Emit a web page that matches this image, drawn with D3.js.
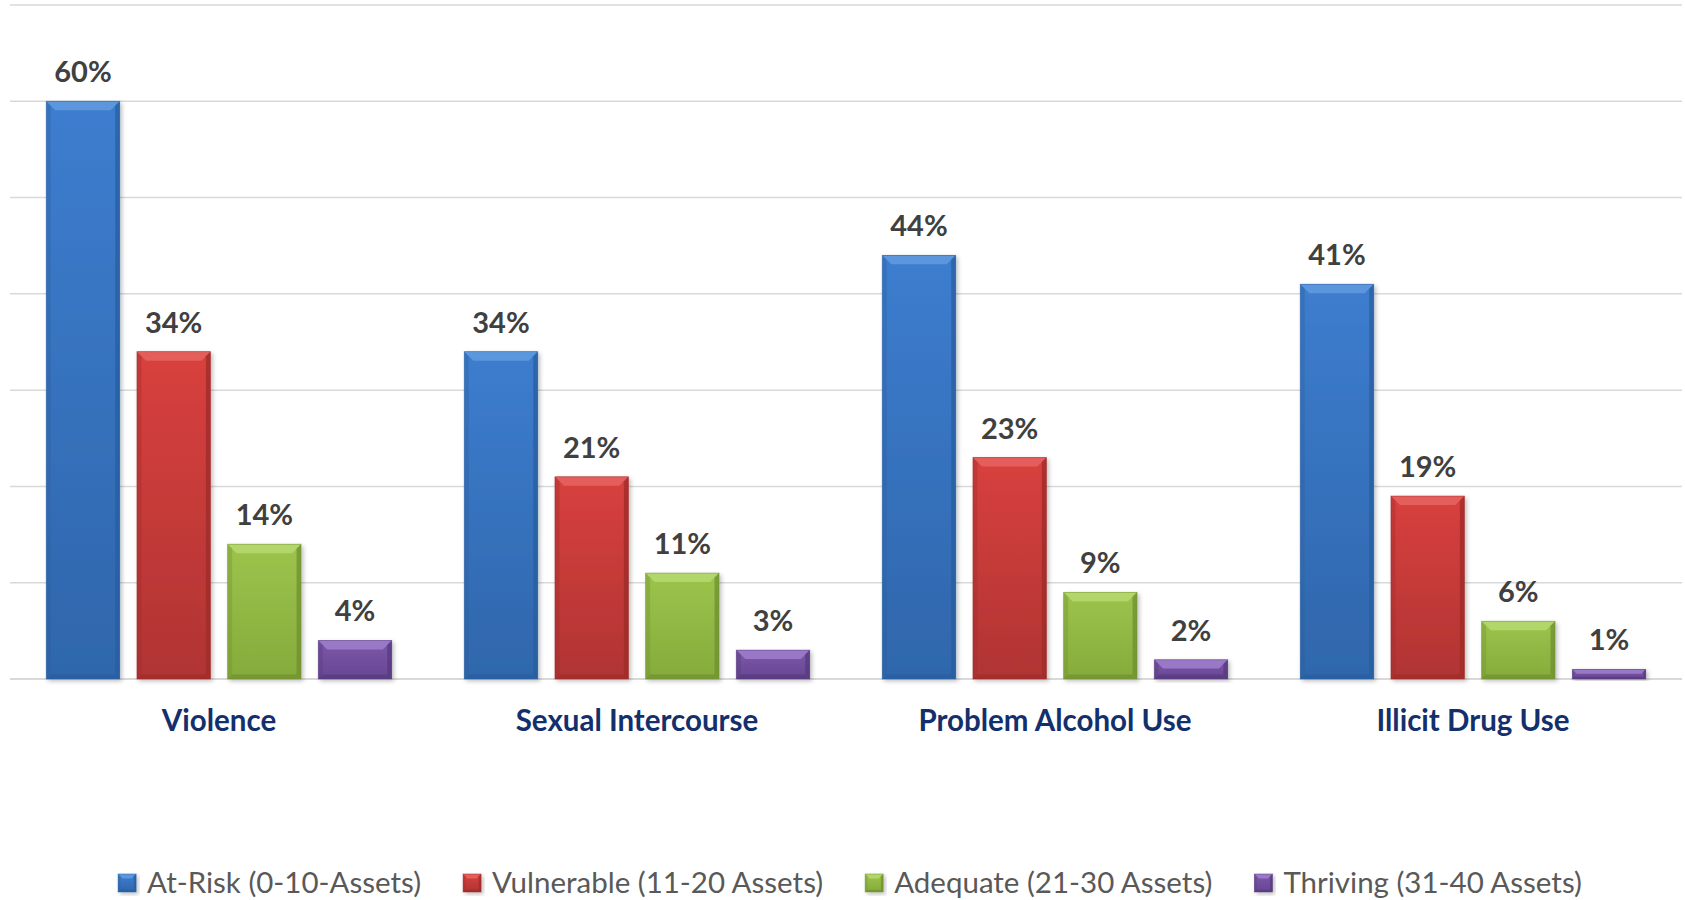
<!DOCTYPE html>
<html>
<head>
<meta charset="utf-8">
<script src="https://cdn.jsdelivr.net/npm/d3@7"></script>
<style>
  html, body { margin: 0; padding: 0; background: #ffffff; }
  svg { display: block; }
</style>
</head>
<body>
<svg id="chart" width="1685" height="900"></svg>
<script>
// ---- data ----
const categories = ["Violence", "Sexual Intercourse", "Problem Alcohol Use", "Illicit Drug Use"];
const seriesNames = ["At-Risk (0-10-Assets)", "Vulnerable (11-20 Assets)", "Adequate (21-30 Assets)", "Thriving (31-40 Assets)"];
const atRisk     = [0.60, 0.34, 0.44, 0.41];
const vulnerable = [0.34, 0.21, 0.23, 0.19];
const adequate   = [0.14, 0.11, 0.09, 0.06];
const thriving   = [0.04, 0.03, 0.02, 0.01];
const gridTicks  = [0, 0.1, 0.2, 0.3, 0.4, 0.5, 0.6, 0.7];

const seriesValues = [atRisk, vulnerable, adequate, thriving];
const palette = [
  { main: "#3d7dcf", light: "#5b97dd", dark: "#2a5e9f", bottom: "#2f66ab" },
  { main: "#d8403e", light: "#e45e5b", dark: "#9e2b2a", bottom: "#b03433" },
  { main: "#9cc44c", light: "#b2d66a", dark: "#6f8f30", bottom: "#85ab3b" },
  { main: "#7c57aa", light: "#9a78c8", dark: "#553a7c", bottom: "#684793" }
];

const svg = d3.select("#chart");
const defs = svg.append("defs");

const f = defs.append("filter").attr("id", "shadow").attr("x", "-20%").attr("y", "-20%").attr("width", "140%").attr("height", "140%");
f.append("feDropShadow").attr("dx", 2).attr("dy", 2).attr("stdDeviation", 2).attr("flood-color", "#000").attr("flood-opacity", 0.25);

palette.forEach((p, i) => {
  const g = defs.append("linearGradient").attr("id", "grad" + i).attr("x1", 0).attr("y1", 0).attr("x2", 0).attr("y2", 1);
  g.append("stop").attr("offset", "0%").attr("stop-color", p.main);
  g.append("stop").attr("offset", "100%").attr("stop-color", p.bottom);
});

// ---- scales ----
const y = d3.scaleLinear().domain([0, 0.7]).range([679, 5]);
const x0 = d3.scaleBand().domain(categories).range([10, 1682]).paddingInner(0).paddingOuter(0);
const x1 = d3.scaleBand().domain(seriesNames).range([0, x0.bandwidth()]).paddingInner(0.19).paddingOuter(0.4);

// ---- gridlines ----
svg.append("g").selectAll("line").data(gridTicks).join("line")
  .attr("x1", 10).attr("x2", 1682)
  .attr("y1", d => y(d)).attr("y2", d => y(d))
  .attr("stroke", "#d9d9d9").attr("stroke-width", d => d === 0 ? 2 : 1.5);

// bevelled bar drawing
function bevelBar(g, x, yTop, w, h, p, i) {
  const b = Math.min(9, h / 2.2, w / 4);
  const grp = g.append("g").attr("filter", "url(#shadow)");
  grp.append("rect").attr("x", x).attr("y", yTop).attr("width", w).attr("height", h).attr("fill", `url(#grad${i})`);
  grp.append("polygon").attr("points", [[x, yTop], [x + w, yTop], [x + w - b, yTop + b], [x + b, yTop + b]].map(q => q.join(",")).join(" "))
    .attr("fill", p.light);
  grp.append("polygon").attr("points", [[x + w, yTop], [x + w, yTop + h], [x + w - b * 0.5, yTop + h - b * 0.5], [x + w - b * 0.5, yTop + b * 0.5]].map(q => q.join(",")).join(" "))
    .attr("fill", p.dark).attr("opacity", 0.75);
  grp.append("polygon").attr("points", [[x, yTop], [x + b * 0.5, yTop + b * 0.5], [x + b * 0.5, yTop + h - b * 0.5], [x, yTop + h]].map(q => q.join(",")).join(" "))
    .attr("fill", p.dark).attr("opacity", 0.35);
  grp.append("polygon").attr("points", [[x, yTop + h], [x + b * 0.5, yTop + h - b * 0.5], [x + w - b * 0.5, yTop + h - b * 0.5], [x + w, yTop + h]].map(q => q.join(",")).join(" "))
    .attr("fill", p.dark).attr("opacity", 0.7);
  grp.append("rect").attr("x", x).attr("y", yTop).attr("width", w).attr("height", h)
    .attr("fill", "none").attr("stroke", p.dark).attr("stroke-width", 0.8).attr("stroke-opacity", 0.6);
}

// ---- bars ----
const barsG = svg.append("g");
categories.forEach((cat, ci) => {
  seriesNames.forEach((s, si) => {
    const v = seriesValues[si][ci];
    const bx = x0(cat) + x1(s);
    const by = y(v);
    bevelBar(barsG, bx, by, x1.bandwidth(), y(0) - by, palette[si], si);
    svg.append("text")
      .attr("x", bx + x1.bandwidth() / 2)
      .attr("y", by - 19)
      .attr("text-anchor", "middle")
      .attr("font-family", "Lato, 'Open Sans', sans-serif")
      .attr("font-weight", "bold")
      .attr("font-size", 29)
      .attr("fill", "#404040")
      .text(d3.format(".0%")(v));
  });
});

// ---- category axis labels ----
const xAxis = d3.axisBottom(x0).tickSize(0).tickPadding(0);
const ax = svg.append("g").attr("transform", "translate(0,731)").call(xAxis);
ax.select(".domain").remove();
ax.selectAll("text")
  .attr("dy", 0)
  .attr("font-family", "Lato, 'Open Sans', sans-serif")
  .attr("font-weight", "bold")
  .attr("font-size", 29.5)
  .attr("fill", "#13306c");

// ---- legend ----
const legend = svg.append("g");
const legendY = 893; // text baseline
const markerSize = 18;
const items = [];
seriesNames.forEach((s, i) => {
  const it = legend.append("g");
  bevelBar(it, 0, legendY - markerSize - 1, markerSize, markerSize, palette[i], i);
  const t = it.append("text").attr("x", markerSize + 11).attr("y", legendY)
    .attr("font-family", "Lato, 'Open Sans', sans-serif")
    .attr("font-size", 29.5).attr("fill", "#595959").text(s);
  const w = markerSize + 11 + t.node().getComputedTextLength();
  items.push({ it, w });
});
const gap = 42;
const total = d3.sum(items, d => d.w) + gap * (items.length - 1);
let cx = 850 - total / 2;
items.forEach(d => { d.it.attr("transform", `translate(${cx},0)`); cx += d.w + gap; });
</script>
</body>
</html>
